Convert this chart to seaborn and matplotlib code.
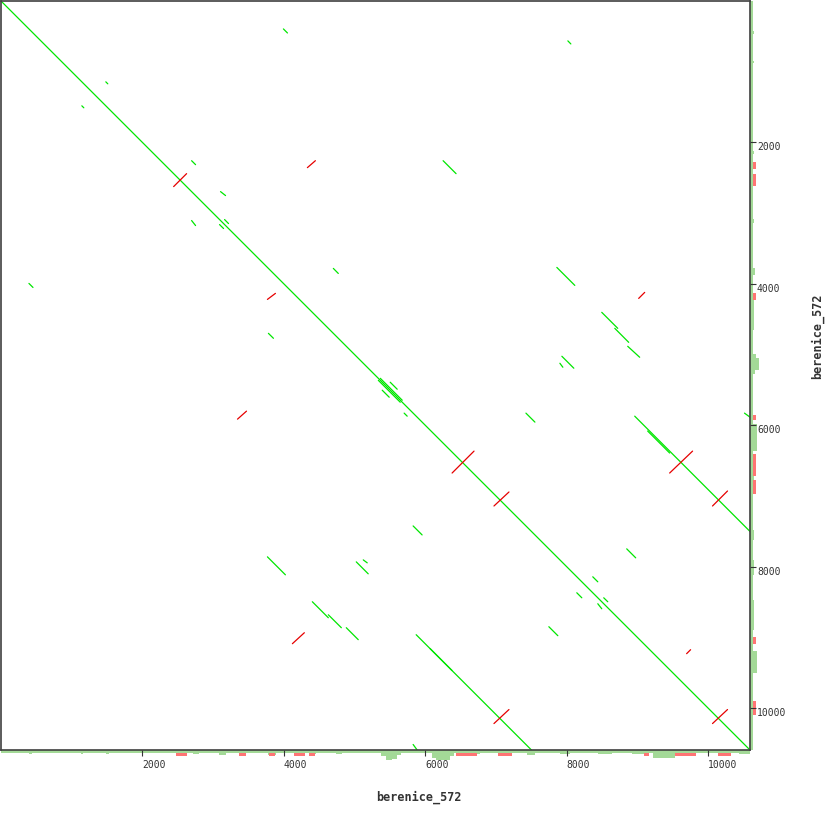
import numpy as np
import pandas as pd
import matplotlib
matplotlib.use("Agg")
import matplotlib.pyplot as plt
import seaborn as sns

# ---------------- data ----------------
SEQ_NAME = "berenice_572"
SEQ_LEN = 10590
TICKS = [2000, 4000, 6000, 8000, 10000]

# forward (same-strand) matches: start/end in bp
fwd_x0 = [0, 3993, 1482, 1143, 2695, 3104, 2695, 3090, 3161, 8015, 6251, 395, 4699, 3781,
          7859, 8494, 8678, 8861, 7930, 7902, 5335, 5363, 5503, 5390, 5700, 7422, 8960, 9143,
          10512, 3767, 5023, 5122, 4402, 4628, 4882, 5827, 8847, 8367, 8141, 8522, 8438, 7746,
          5870, 6067, 5827]
fwd_y0 = [0, 395, 1143, 1482, 2258, 2695, 3104, 3161, 3090, 564, 2258, 3993, 3781, 4699,
          3767, 4402, 4628, 4882, 5023, 5122, 5363, 5335, 5390, 5503, 5827, 5827, 5870, 6080,
          5827, 7859, 7930, 7902, 8494, 8678, 8861, 7422, 7746, 8141, 8367, 8438, 8522, 8847,
          8960, 9156, 10512]
fwd_x1 = [10590, 4050, 1510, 1171, 2751, 3175, 2751, 3147, 3217, 8057, 6434, 452, 4769, 3852,
          8113, 8720, 8875, 9030, 8099, 7944, 5645, 5673, 5602, 5489, 5743, 7549, 10590, 9454,
          10590, 4021, 5192, 5178, 4628, 4812, 5051, 5954, 8974, 8438, 8212, 8579, 8494, 7873,
          7500, 6378, 5884]
fwd_y1 = [10590, 452, 1171, 1510, 2314, 2751, 3175, 3217, 3147, 607, 2441, 4050, 3852, 4769,
          4021, 4628, 4826, 5037, 5192, 5178, 5673, 5645, 5489, 5602, 5870, 5954, 7500, 6391,
          5884, 8113, 8099, 7944, 8720, 8861, 9030, 7549, 7873, 8212, 8438, 8494, 8593, 8974,
          10590, 9467, 10590]

# reverse-complement matches
rev_x0 = [2441, 4332, 3767, 3344, 9016, 6378, 9454, 6970, 10060, 4120, 9694, 6970, 10060]
rev_y0 = [2624, 2356, 4219, 5912, 4205, 6674, 6674, 7140, 7140, 9087, 9228, 10216, 10216]
rev_x1 = [2624, 4445, 3880, 3471, 9101, 6688, 9778, 7182, 10272, 4289, 9750, 7182, 10272]
rev_y1 = [2441, 2258, 4134, 5799, 4120, 6364, 6364, 6942, 6928, 8932, 9172, 10018, 10018]

# coverage strip along x (bottom): green depth profile and red bars
covx_start = [0, 395, 1129, 1482, 2709, 3076, 3781, 4374, 4741, 5376, 5446, 5531, 5602, 6096,
              6152, 6350, 6632, 7436, 7902, 8438, 8918, 9214, 10441]
covx_end = [10590, 437, 1157, 1524, 2794, 3175, 3894, 4459, 4826, 5446, 5531, 5602, 5658, 6152,
            6350, 6406, 6773, 7549, 8043, 8635, 9101, 9524, 10590]
covx_depth = [3, 3.5, 3.5, 3.5, 3.5, 4.5, 5, 3.5, 3.5, 5.5, 9.5, 8.5, 4.5, 7.5, 9.5, 5.5, 3.5,
              4.5, 3.5, 3.5, 3.5, 8, 3.5]
redx_start = [2469, 3372, 3796, 4148, 4360, 6434, 7027, 9087, 9524, 10131]
redx_end = [2624, 3471, 3880, 4304, 4445, 6730, 7224, 9157, 9821, 10328]

# coverage strip along y (right)
covy_start = [0, 423, 847, 2117, 3076, 3781, 4233, 4995, 5051, 5221, 5983, 6420, 7478, 7902,
              8466, 9186]
covy_end = [10590, 466, 875, 2159, 3133, 3880, 4656, 5051, 5221, 5277, 6364, 6914, 7619, 8113,
            8889, 9496]
covy_depth = [3, 3.5, 3.5, 4, 4, 4.5, 3.5, 5.5, 8.5, 4.5, 7, 3.5, 3.5, 3.5, 3.5, 7]
redy_start = [2272, 2441, 4134, 5856, 6406, 6773, 8988, 9891]
redy_end = [2370, 2610, 4233, 5927, 6716, 6970, 9087, 10089]

# ---------------- figure ----------------
sns.set_style("white")
plt.rcParams["font.family"] = ["DejaVu Sans Mono", "DejaVu Sans"]

W = 830.0
fig = plt.figure(figsize=(8.3, 8.3), dpi=100)

GREEN = "#00e600"
RED = "#e60000"
COV_G = "#a3d997"
COV_R = "#ff7474"

# bottom strip
ax_b = fig.add_axes([1 / W, (W - 762) / W, 749 / W, 12 / W])
ax_b.set_xlim(0, SEQ_LEN)
ax_b.set_ylim(12, 0)
ax_b.axis("off")
xs = np.array(covx_start); xe = np.array(covx_end)
ax_b.bar(xs, covx_depth, width=xe - xs, align="edge", color=COV_G, linewidth=0)
rs = np.array(redx_start); re_ = np.array(redx_end)
ax_b.bar(rs, [3.0] * len(rs), bottom=2.5, width=re_ - rs, align="edge", color=COV_R, linewidth=0)

# right strip
ax_r = fig.add_axes([750 / W, 80 / W, 12 / W, 749 / W])
ax_r.set_ylim(SEQ_LEN, 0)
ax_r.set_xlim(0, 12)
ax_r.axis("off")
ys = np.array(covy_start); ye = np.array(covy_end)
ax_r.barh(ys, covy_depth, height=ye - ys, align="edge", color=COV_G, linewidth=0)
rys = np.array(redy_start); rye = np.array(redy_end)
ax_r.barh(rys, [3.0] * len(rys), left=2.5, height=rye - rys, align="edge", color=COV_R, linewidth=0)

# main dot plot
ax = fig.add_axes([1 / W, 80 / W, 749 / W, 749 / W], zorder=3)
rows = []
for i, (a, b, c, d) in enumerate(zip(fwd_x0, fwd_y0, fwd_x1, fwd_y1)):
    rows.append(dict(seg=f"f{i}", kind="fwd", x=a, y=b, o=0))
    rows.append(dict(seg=f"f{i}", kind="fwd", x=c, y=d, o=1))
for i, (a, b, c, d) in enumerate(zip(rev_x0, rev_y0, rev_x1, rev_y1)):
    rows.append(dict(seg=f"r{i}", kind="rev", x=a, y=b, o=0))
    rows.append(dict(seg=f"r{i}", kind="rev", x=c, y=d, o=1))
df = pd.DataFrame(rows)
sns.lineplot(data=df, x="x", y="y", units="seg", estimator=None, sort=False, hue="kind",
             palette={"fwd": GREEN, "rev": RED}, legend=False, linewidth=0.9, ax=ax)

ax.set_xlim(0, SEQ_LEN)
ax.set_ylim(SEQ_LEN, 0)
ax.set_xlabel("")
ax.set_ylabel("")
for s in ax.spines.values():
    s.set_visible(True)
    s.set_color("#404040")
    s.set_linewidth(1.2)

ax.set_xticks(TICKS)
ax.set_xticklabels([str(t) for t in TICKS])
ax.set_yticks(TICKS)
ax.set_yticklabels([str(t) for t in TICKS])
ax.yaxis.tick_right()
ax.tick_params(axis="x", bottom=True, top=False, direction="out", length=4.5, width=0.8,
               color="#333333", labelsize=7, labelcolor="#333333", pad=3)
ax.tick_params(axis="y", right=True, left=False, direction="out", length=4.5, width=0.8,
               color="#333333", labelsize=7, labelcolor="#333333", pad=0.5)
for lab in ax.get_xticklabels():
    lab.set_ha("left")
for lab in ax.get_yticklabels():
    lab.set_va("top")

fig.text(419 / W, 1 - 797 / W, SEQ_NAME, ha="center", va="center", fontsize=8.5,
         fontweight="bold", color="#333333")
fig.text(817 / W, 1 - 336 / W, SEQ_NAME, ha="center", va="center", fontsize=8.5,
         fontweight="bold", color="#333333", rotation=90)

fig.savefig("out.png", dpi=100, facecolor="white")
